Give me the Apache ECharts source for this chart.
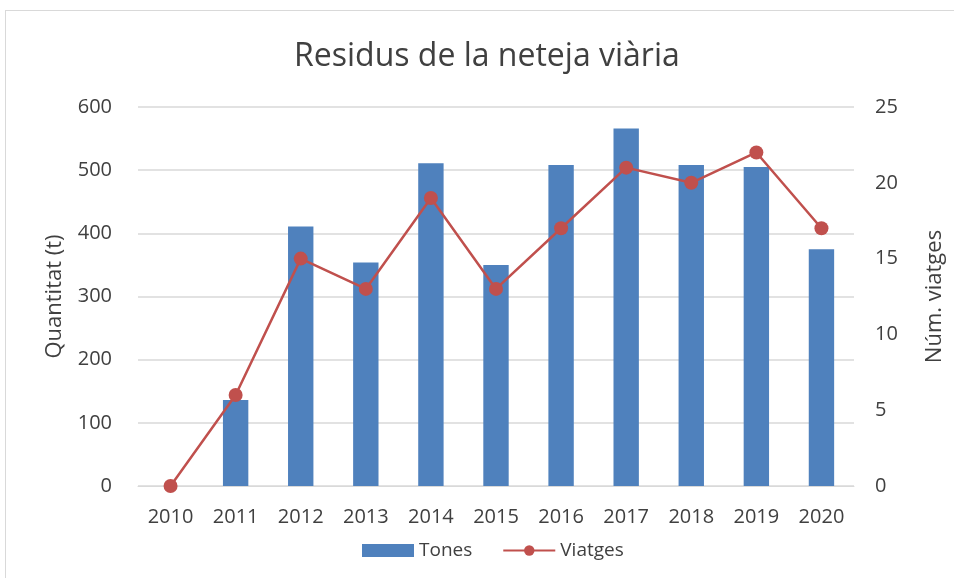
<!DOCTYPE html>
<html>
<head>
<meta charset="utf-8">
<script src="https://cdn.jsdelivr.net/npm/echarts@6/dist/echarts.min.js"></script>
<style>
  html, body { margin: 0; padding: 0; background: #fff; }
  .frame {
    position: absolute; left: 5px; top: 10px; width: 960px; height: 580px;
    border: 1px solid #d9d9d9; box-sizing: border-box;
  }
  #chart { position: absolute; left: 0; top: 0; width: 954px; height: 578px; }
</style>
</head>
<body>
<div class="frame"></div>
<div id="chart"></div>
<script>
const years = ['2010', '2011', '2012', '2013', '2014', '2015', '2016', '2017', '2018', '2019', '2020']
const tones = [0, 136, 411, 354, 511, 350, 508, 566, 508, 505, 375]
const viatges = [0, 6, 15, 13, 19, 13, 17, 21, 20, 22, 17]

const font = '"Open Sans", "Liberation Sans", sans-serif'
const txt = '#404040'

const chart = echarts.init(document.getElementById('chart'))
chart.setOption({
  animation: false,
  textStyle: { fontFamily: font },
  title: {
    text: 'Residus de la neteja viària',
    left: 289,
    top: 36,
    textStyle: { fontFamily: font, fontSize: 32, fontWeight: 'normal', color: '#404040' }
  },
  legend: {
    bottom: 13,
    left: 357,
    itemGap: 30,
    itemWidth: 52,
    itemHeight: 13,
    textStyle: { fontFamily: font, fontSize: 19, color: txt },
    data: [
      { name: 'Tones', icon: 'rect' },
      { name: 'Viatges' }
    ]
  },
  grid: { left: 138, right: 98, top: 107, bottom: 92 },
  xAxis: {
    type: 'category',
    data: years,
    axisLine: { lineStyle: { color: '#d9d9d9' } },
    axisTick: { show: false },
    axisLabel: { color: txt, fontSize: 20, margin: 21 }
  },
  yAxis: [
    {
      type: 'value',
      min: 0, max: 600, interval: 100,
      name: 'Quantitat (t)',
      nameLocation: 'middle',
      nameGap: 72,
      nameTextStyle: { color: txt, fontSize: 22 },
      axisLabel: { color: txt, fontSize: 20, margin: 26 },
      axisLine: { show: false },
      splitLine: { lineStyle: { color: '#d9d9d9', width: 1.5 } }
    },
    {
      type: 'value',
      min: 0, max: 25, interval: 5,
      name: 'Núm. viatges',
      nameLocation: 'middle',
      nameGap: 70,
      nameRotate: 90,
      nameTextStyle: { color: txt, fontSize: 22 },
      axisLabel: { color: txt, fontSize: 20, margin: 21 },
      axisLine: { show: false },
      splitLine: { show: false }
    }
  ],
  series: [
    {
      name: 'Tones',
      type: 'bar',
      data: tones,
      barWidth: '39%',
      itemStyle: { color: '#4f81bd' }
    },
    {
      name: 'Viatges',
      type: 'line',
      yAxisIndex: 1,
      data: viatges,
      symbol: 'circle',
      symbolSize: 14,
      lineStyle: { color: '#c0504d', width: 2.5 },
      itemStyle: { color: '#c0504d' }
    }
  ]
})
</script>
</body>
</html>
